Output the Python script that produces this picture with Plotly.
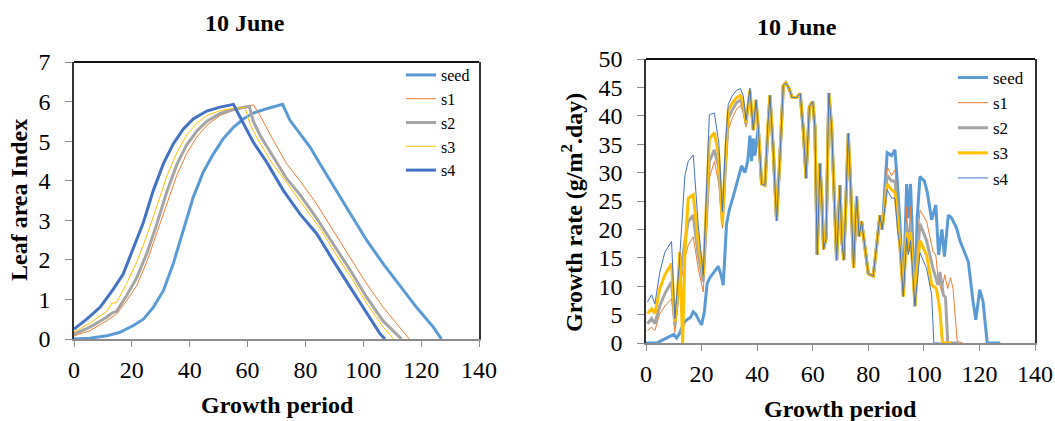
import plotly.graph_objects as go

# colours of the five series
colors = {"seed": "#5B9BD5", "s1": "#ED7D31", "s2": "#A5A5A5", "s3": "#FFC000", "s4": "#4472C4"}
names = ["seed", "s1", "s2", "s3", "s4"]

# ---- Leaf area index (left) ----
lai_seed_x = [0, 5.5, 11.3, 15.9, 20.5, 24, 27.4, 30.9, 34.3, 37.8, 41.2, 44.7, 48.2, 51.6, 55.1, 58.5, 62,
              66.6, 72.1, 74.7, 78.1, 81.6, 85, 89.6, 95.4, 101.2, 106.9, 112.7, 118.4, 124.2, 127]
lai_seed = [0, 0.02, 0.08, 0.17, 0.34, 0.5, 0.8, 1.22, 1.9, 2.74, 3.58, 4.22, 4.68, 5.06, 5.35, 5.56, 5.71,
            5.82, 5.93, 5.52, 5.19, 4.85, 4.43, 3.88, 3.16, 2.49, 1.9, 1.35, 0.8, 0.3, 0]
lai_s1_x = [0, 5.5, 11.3, 14.7, 18.2, 21.7, 25.1, 28.6, 32, 35.5, 38.9, 42.4, 45.9, 50.5, 55.1, 59.7, 62,
            64.3, 68.9, 73.5, 78.1, 83.9, 89.6, 95.4, 101.2, 106.9, 112.7, 115.9]
lai_s1 = [0.08, 0.21, 0.46, 0.63, 0.97, 1.35, 1.94, 2.66, 3.41, 4.13, 4.68, 5.1, 5.4, 5.65, 5.78, 5.86, 5.92,
          5.65, 5.02, 4.43, 4.0, 3.41, 2.74, 2.07, 1.39, 0.8, 0.3, 0]
lai_s2_x = [0, 5.5, 11.3, 13, 14.7, 18.2, 21.7, 25.1, 28.6, 32, 35.5, 38.9, 42.4, 45.9, 50.5, 55.1, 60.6, 62,
            64.3, 68.9, 73.5, 78.1, 83.9, 89.6, 95.4, 101.2, 106.9, 113.2]
lai_s2 = [0.12, 0.3, 0.55, 0.65, 0.7, 1.1, 1.55, 2.15, 2.9, 3.7, 4.4, 4.9, 5.25, 5.5, 5.7, 5.8, 5.88, 5.5,
          5.15, 4.6, 4.05, 3.65, 3.05, 2.4, 1.75, 1.05, 0.45, 0]
lai_s3_x = [0, 5.5, 11.3, 13, 14.7, 18.2, 21.7, 25.1, 28.6, 32, 35.5, 38.9, 42.4, 45.9, 50.5, 55.1, 59.1, 61,
            63.5, 68, 73.5, 79, 85, 90, 95.4, 101.2, 106.9, 110.4]
lai_s3 = [0.18, 0.4, 0.7, 0.9, 0.92, 1.4, 1.95, 2.6, 3.35, 4.1, 4.7, 5.15, 5.45, 5.65, 5.77, 5.83, 5.85, 5.4,
          5.05, 4.5, 3.95, 3.4, 2.8, 2.2, 1.6, 0.9, 0.3, 0]
lai_s4_x = [0, 4.4, 9, 13.6, 17, 20.5, 24, 27.4, 30.9, 34.3, 37.8, 41.2, 45.9, 50.5, 55.1, 57.4, 62, 66.6,
            72.4, 78.1, 83.9, 89.6, 95.4, 101.2, 105.8, 107.5]
lai_s4 = [0.25, 0.5, 0.8, 1.26, 1.64, 2.28, 2.95, 3.75, 4.43, 4.93, 5.31, 5.56, 5.76, 5.86, 5.93, 5.61, 4.97,
          4.47, 3.75, 3.16, 2.66, 1.98, 1.31, 0.63, 0.13, 0]

# ---- Growth rate (right) ----
# seed, start of season
gr_seed_early_x = [0, 4, 5, 7, 9, 10, 11, 12, 13, 14, 15, 16, 17, 18, 19, 20, 21, 22, 23, 24, 25, 26, 27,
                   27.8, 29, 30, 31.4, 32.6, 34.4, 35.6, 36.6, 37.4, 38, 38.6, 39.2]
gr_seed_early = [0, 0, 0.3, 0.8, 1.3, 1.5, 0.9, 1.6, 2.8, 3.8, 4.2, 4.5, 5.5, 5, 4, 3.2, 5.5, 10.5, 11.5,
                 12.2, 12.8, 13.5, 12, 10.2, 21, 23.5, 25.8, 28, 31.2, 30, 32, 36.5, 32, 36, 33]
# s1, s2, s4 start of season
gr_early_x = [0.5, 2, 3.2, 5, 6.8, 9.2, 10.4, 12, 14, 15.2, 17, 18.8, 20.6, 22.8, 24.6, 26.2, 27.5, 28.6]
gr_s1_early = [2.2, 2.8, 2.2, 5.2, 6.5, 7.8, 1.9, 9, 14.9, 17.2, 18.7, 13.1, 9, 29, 32, 28.1, 20.2, 30]
gr_s2_early = [3.4, 4.3, 3.4, 6.6, 8.7, 10.8, 3.1, 11, 17.8, 21.4, 22.5, 15.5, 10.8, 32, 34, 30.8, 21.4, 31.5]
gr_s4_early = [7.2, 8.5, 6.9, 12.5, 16, 17.9, 4.3, 14, 29.5, 32, 33.1, 20.8, 11.9, 40.2, 40.5, 35.2, 23.1, 35]
gr_s3_early_x = [0.5, 2, 3.2, 5, 6.8, 9.2, 10.4, 11.3, 12.1, 13.2, 14, 15.2, 17, 18.8, 20.6, 22.8, 24.6,
                 26.2, 27.5, 28.6]
gr_s3_early = [5.2, 6, 5.2, 9.6, 12, 14, 3.7, 8, 16, 0, 16, 25.5, 26.1, 17.8, 11.9, 36, 37, 33, 20.8, 33]
# s1..s4 around the first peaks
gr_peak_x = [29.6, 31, 32.6, 34, 35, 36, 37.4]
gr_s1_peak = [37.5, 39.5, 41.2, 41.8, 40.5, 38, 43.8]
gr_s2_peak = [39.5, 41, 42.3, 42.8, 41.5, 38.5, 44.2]
gr_s3_peak = [41, 42.2, 43.2, 43.6, 42.3, 38.8, 44.5]
gr_s4_peak = [42, 43.5, 44.5, 44.8, 43.5, 39.2, 44.9]
# middle of season, all series together
gr_mid_x = [38.6, 39.6, 40.4, 41.6, 42.8, 43.8, 44.6, 45.8, 47, 48.2, 49.4, 50.3, 51.5, 52.6, 54.2, 55.5,
            56.6, 57.6, 58.8, 60, 60.8, 61.6, 62.6, 63.3, 63.9, 64.8, 65.8, 66.8, 67.8, 68.6, 69.8, 70.5,
            71.2, 72.8, 73.7, 74.7, 75.8, 76.7, 77.6, 78.4, 80, 81.8, 83.4, 84.2, 85]
gr_mid = [37.5, 42.8, 38.0, 28.0, 27.8, 38.0, 43.6, 34.0, 21.5, 32.8, 45.3, 45.8, 44.8, 43.2, 43.2, 43.9,
          37.5, 29.0, 41.6, 42.5, 38.0, 15.5, 31.6, 25.0, 16.5, 18.5, 44.0, 38.0, 24.0, 14.6, 27.8, 18.0,
          14.6, 36.9, 27.0, 13.2, 25.8, 18.8, 21.4, 18.0, 12.2, 11.8, 18.8, 22.5, 20.0]
# end of season
gr_seed_late_x = [86, 86.8, 88.4, 89.6, 90.5, 91.4, 92.6, 93.8, 94.4, 95.2, 95.8, 96.8, 97.6, 98.6, 100.2,
                  101.2, 102.8, 104.3, 105.3, 106.5, 107.4, 108.8, 110, 111.8, 113, 114.2, 116, 117.7,
                  118.7, 120.1, 121.3, 122.8, 127.5]
gr_seed_late = [28, 33.5, 33, 34, 28, 21, 8.5, 28, 22, 28, 20, 6.5, 22, 29.3, 28.5, 26.6, 21.7, 24.3, 15.5,
                20, 15.2, 22.5, 22, 20.2, 18, 16.6, 14.3, 7.3, 4.1, 9.4, 7.3, 0, 0]
gr_s1_late_x = [86.8, 88.4, 89.6, 90.5, 91.4, 92.6, 93.8, 94.4, 95.2, 96.8, 97.6, 98.6, 101, 103.3, 104.3,
                105.1, 106.4, 107.5, 108.6, 109.6, 110.5, 111.3, 112, 114]
gr_s1_late = [31, 29.5, 30.5, 25, 17.5, 8.2, 24, 16, 24, 6.5, 17, 23.4, 21.4, 16.1, 15.5, 11.4, 9, 12, 9.6,
              11.5, 9.6, 4, 0.3, 0]
gr_s2_late_x = [86.8, 88.4, 89.6, 90.5, 91.4, 92.6, 93.8, 94.4, 95.2, 96.8, 97.6, 98.6, 101, 103.3, 105.1,
                105.8, 107, 107.8, 108.6, 112.5]
gr_s2_late = [29.5, 28.5, 28.5, 24, 17, 8.2, 21, 16, 21, 6.5, 15, 21, 18, 13.1, 10.2, 12.5, 8.5, 8, 0, 0]
gr_s3_late_x = [86.8, 88.4, 89.6, 90.5, 91.4, 92.6, 93.8, 94.4, 95.2, 96.8, 97.6, 98.6, 101, 102.8, 104.5,
                105.7, 106.7, 110]
gr_s3_late = [28, 27, 26.5, 22, 17, 8.2, 19.5, 16, 19.5, 6.5, 13, 18, 15.5, 10.2, 9.6, 6.1, 0, 0]
gr_s4_late_x = [86.8, 88.4, 89.6, 90.5, 91.4, 92.6, 93.8, 94.4, 95.2, 96.8, 97.6, 98.6, 101, 102.8, 103.6, 106]
gr_s4_late = [27, 25.5, 25.5, 20, 17, 8.2, 18.5, 15.5, 18, 6.5, 11, 15.9, 13.1, 8.5, 0, 0]

lai = {
    "seed": (lai_seed_x, lai_seed),
    "s1": (lai_s1_x, lai_s1),
    "s2": (lai_s2_x, lai_s2),
    "s3": (lai_s3_x, lai_s3),
    "s4": (lai_s4_x, lai_s4),
}
gr = {
    "seed": (gr_seed_early_x + gr_mid_x[2:] + gr_seed_late_x, gr_seed_early + gr_mid[2:] + gr_seed_late),
    "s1": (gr_early_x + gr_peak_x + gr_mid_x + gr_s1_late_x, gr_s1_early + gr_s1_peak + gr_mid + gr_s1_late),
    "s2": (gr_early_x + gr_peak_x + gr_mid_x + gr_s2_late_x, gr_s2_early + gr_s2_peak + gr_mid + gr_s2_late),
    "s3": (gr_s3_early_x + gr_peak_x + gr_mid_x + gr_s3_late_x, gr_s3_early + gr_s3_peak + gr_mid + gr_s3_late),
    "s4": (gr_early_x + gr_peak_x + gr_mid_x + gr_s4_late_x, gr_s4_early + gr_s4_peak + gr_mid + gr_s4_late),
}
lai_width = {"seed": 3, "s1": 1, "s2": 3, "s3": 1, "s4": 3}
gr_width = {"seed": 3, "s1": 1, "s2": 3, "s3": 3, "s4": 1}

FONT = "Liberation Serif, Times New Roman, DejaVu Serif, serif"
W, H = 1055, 421

fig = go.Figure()
for n in names:
    fig.add_trace(go.Scatter(x=lai[n][0], y=lai[n][1], mode="lines", name=n,
                             line=dict(color=colors[n], width=lai_width[n]),
                             xaxis="x", yaxis="y", legend="legend"))
for n in names:
    fig.add_trace(go.Scatter(x=gr[n][0], y=gr[n][1], mode="lines", name=n,
                             line=dict(color=colors[n], width=gr_width[n]),
                             xaxis="x2", yaxis="y2", legend="legend2"))


def px_x(p):
    return p / W


def px_y(p):
    return 1 - p / H


tick_font = dict(family=FONT, size=24, color="black")
common_x = dict(range=[0, 140], dtick=20, showgrid=False, zeroline=False, showline=True,
                linecolor="#8c8c8c", linewidth=1.5, ticks="outside", ticklen=6, tickcolor="#8c8c8c",
                tickfont=tick_font, layer="below traces", ticklabelstandoff=2, automargin=False)
common_y = dict(showgrid=False, zeroline=False, showline=True, linecolor="#333333", linewidth=1.5,
                mirror=True, ticks="outside", ticklen=7, tickcolor="#8c8c8c", tickfont=tick_font,
                layer="below traces", ticklabelstandoff=10, automargin=False)

fig.update_layout(
    width=W, height=H,
    margin=dict(l=0, r=0, t=0, b=0, autoexpand=False),
    paper_bgcolor="white", plot_bgcolor="white",
    font=dict(family=FONT, color="black"),
    xaxis=dict(common_x, domain=[px_x(74), px_x(479)], anchor="y"),
    yaxis=dict(common_y, domain=[px_y(339), px_y(62)], range=[0, 7], dtick=1, anchor="x"),
    xaxis2=dict(common_x, domain=[px_x(646), px_x(1035)], anchor="y2"),
    yaxis2=dict(common_y, domain=[px_y(343), px_y(59)], range=[0, 50], dtick=5, anchor="x2"),
    legend=dict(x=px_x(401), y=px_y(58), xanchor="left", yanchor="top", bgcolor="rgba(0,0,0,0)",
                font=dict(family=FONT, size=16)),
    legend2=dict(x=px_x(953), y=px_y(60), xanchor="left", yanchor="top", bgcolor="rgba(0,0,0,0)",
                 font=dict(family=FONT, size=17)),
    showlegend=True,
)

# top border of both plot areas
for xr, yr in (("x domain", "y domain"), ("x2 domain", "y2 domain")):
    fig.add_shape(type="line", xref=xr, yref=yr, x0=0, x1=1, y0=1, y1=1,
                  line=dict(color="#111111", width=2))

bold = dict(family=FONT, size=24, color="black")
annots = [
    dict(text="<b>10 June</b>", x=px_x(245), y=px_y(23)),
    dict(text="<b>10 June</b>", x=px_x(797), y=px_y(27)),
    dict(text="<b>Growth period</b>", x=px_x(277), y=px_y(405)),
    dict(text="<b>Growth period</b>", x=px_x(840), y=px_y(409)),
    dict(text="<b>Leaf area Index</b>", x=px_x(19), y=px_y(200), textangle=-90),
    dict(text="<b>Growth rate (g/m<sup>2</sup>.day)</b>", x=px_x(572), y=px_y(213), textangle=-90),
]
for a in annots:
    fig.add_annotation(xref="paper", yref="paper", showarrow=False, font=bold,
                       xanchor="center", yanchor="middle", **a)

# the page body has a default margin; remove it so the figure sits at the window corner
fig.write_html("out.html", config={"displayModeBar": False},
               post_script="document.body.style.margin='0';document.body.style.overflow='hidden';")
